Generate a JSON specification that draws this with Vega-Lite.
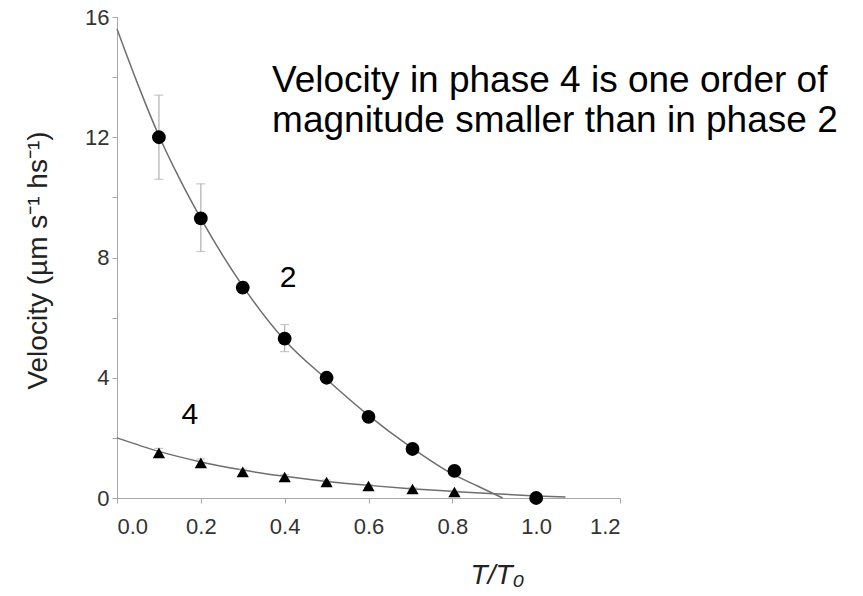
{
  "$schema": "https://vega.github.io/schema/vega-lite/v6.json",
  "width": 503,
  "height": 481,
  "autosize": "none",
  "padding": {"left": 117, "top": 17, "right": 243, "bottom": 98},
  "background": "white",
  "config": {
    "view": {"stroke": null},
    "font": "Liberation Sans",
    "axis": {
      "grid": false,
      "domainColor": "#a8a8a8",
      "tickColor": "#a8a8a8",
      "tickSize": 5,
      "labelColor": "#333333",
      "labelFont": "Liberation Sans",
      "labelFontSize": 22,
      "titleFont": "Liberation Sans",
      "titleFontWeight": "normal",
      "titleColor": "#222222"
    }
  },
  "datasets": {
    "curve": [
      {"series": "2", "x": 0.0, "y": 15.6},
      {"series": "2", "x": 0.05, "y": 13.75},
      {"series": "2", "x": 0.1, "y": 12.05},
      {"series": "2", "x": 0.15, "y": 10.6},
      {"series": "2", "x": 0.2, "y": 9.3},
      {"series": "2", "x": 0.3, "y": 7.05},
      {"series": "2", "x": 0.4, "y": 5.25},
      {"series": "2", "x": 0.5, "y": 3.95},
      {"series": "2", "x": 0.6, "y": 2.75},
      {"series": "2", "x": 0.7, "y": 1.7},
      {"series": "2", "x": 0.8, "y": 0.8},
      {"series": "2", "x": 0.86, "y": 0.4},
      {"series": "2", "x": 0.92, "y": 0.0},
      {"series": "4", "x": 0.0, "y": 2.0},
      {"series": "4", "x": 0.1, "y": 1.55},
      {"series": "4", "x": 0.2, "y": 1.2},
      {"series": "4", "x": 0.3, "y": 0.93},
      {"series": "4", "x": 0.4, "y": 0.72},
      {"series": "4", "x": 0.5, "y": 0.55},
      {"series": "4", "x": 0.6, "y": 0.42},
      {"series": "4", "x": 0.7, "y": 0.31},
      {"series": "4", "x": 0.8, "y": 0.22},
      {"series": "4", "x": 0.9, "y": 0.14},
      {"series": "4", "x": 1.0, "y": 0.07},
      {"series": "4", "x": 1.07, "y": 0.03}
    ],
    "points": [
      {"series": "2", "x": 0.1, "y": 12.0, "lo": 10.6, "hi": 13.4},
      {"series": "2", "x": 0.2, "y": 9.3, "lo": 8.2, "hi": 10.45},
      {"series": "2", "x": 0.3, "y": 7.0, "lo": 6.85, "hi": 7.2},
      {"series": "2", "x": 0.4, "y": 5.3, "lo": 4.87, "hi": 5.77},
      {"series": "2", "x": 0.5, "y": 4.0, "lo": 3.9, "hi": 4.1},
      {"series": "2", "x": 0.6, "y": 2.7, "lo": 2.6, "hi": 2.8},
      {"series": "2", "x": 0.705, "y": 1.63, "lo": 1.55, "hi": 1.72},
      {"series": "2", "x": 0.805, "y": 0.9, "lo": 0.82, "hi": 0.98},
      {"series": "2", "x": 1.0, "y": 0.0, "lo": 0.0, "hi": 0.0},
      {"series": "4", "x": 0.1, "y": 1.5, "lo": 1.35, "hi": 1.65},
      {"series": "4", "x": 0.2, "y": 1.17, "lo": 1.05, "hi": 1.3},
      {"series": "4", "x": 0.3, "y": 0.87, "lo": 0.78, "hi": 0.96},
      {"series": "4", "x": 0.4, "y": 0.7, "lo": 0.62, "hi": 0.78},
      {"series": "4", "x": 0.5, "y": 0.53, "lo": 0.47, "hi": 0.6},
      {"series": "4", "x": 0.6, "y": 0.4, "lo": 0.35, "hi": 0.45},
      {"series": "4", "x": 0.705, "y": 0.3, "lo": 0.26, "hi": 0.34},
      {"series": "4", "x": 0.805, "y": 0.2, "lo": 0.17, "hi": 0.23}
    ],
    "labels": [
      {"x": 0.408, "y": 7.32, "text": "2"},
      {"x": 0.174, "y": 2.76, "text": "4"}
    ],
    "note": [
      {"x": 0.37, "y": 13.51, "text": "Velocity in phase 4 is one order of"},
      {"x": 0.37, "y": 12.18, "text": "magnitude smaller than in phase 2"}
    ]
  },
  "layer": [
    {
      "data": {"name": "curve"},
      "mark": {"type": "line", "color": "#6e6e6e", "strokeWidth": 1.5, "interpolate": "monotone", "clip": false},
      "encoding": {
        "x": {
          "field": "x", "type": "quantitative",
          "scale": {"domain": [0, 1.2], "nice": false, "zero": false},
          "axis": {
            "values": [0, 0.2, 0.4, 0.6, 0.8, 1.0, 1.2],
            "format": ".1f",
            "labelPadding": 13,
            "title": "T/T₀",
            "titleFontStyle": "italic",
            "titleFontSize": 28,
            "titleX": 380,
            "titleY": 63,
            "titleAlign": "center",
            "titleBaseline": "top",
            "titleAnchor": null
          }
        },
        "y": {
          "field": "y", "type": "quantitative",
          "scale": {"domain": [0, 16], "nice": false},
          "axis": {
            "values": [0, 2, 4, 6, 8, 10, 12, 14, 16],
            "labelExpr": "datum.value % 4 === 0 ? datum.label : ''",
            "format": "d",
            "labelPadding": 3,
            "title": "Velocity (µm s⁻¹ hs⁻¹)",
            "titleFontSize": 28,
            "titleX": -79,
            "titleY": 243,
            "titleAlign": "center",
            "titleBaseline": "middle",
            "titleAngle": -90
          }
        },
        "detail": {"field": "series"}
      }
    },
    {
      "data": {"name": "points"},
      "mark": {"type": "rule", "color": "#b0b0b0", "strokeWidth": 1.2},
      "encoding": {
        "x": {"field": "x", "type": "quantitative"},
        "y": {"field": "lo", "type": "quantitative"},
        "y2": {"field": "hi"}
      }
    },
    {
      "data": {"name": "points"},
      "mark": {"type": "tick", "orient": "horizontal", "color": "#b0b0b0", "size": 9, "thickness": 1.2},
      "encoding": {
        "x": {"field": "x", "type": "quantitative"},
        "y": {"field": "lo", "type": "quantitative"}
      }
    },
    {
      "data": {"name": "points"},
      "mark": {"type": "tick", "orient": "horizontal", "color": "#b0b0b0", "size": 9, "thickness": 1.2},
      "encoding": {
        "x": {"field": "x", "type": "quantitative"},
        "y": {"field": "hi", "type": "quantitative"}
      }
    },
    {
      "data": {"name": "points"},
      "mark": {"type": "point", "filled": true, "opacity": 1, "color": "black", "clip": false},
      "encoding": {
        "x": {"field": "x", "type": "quantitative"},
        "y": {"field": "y", "type": "quantitative"},
        "shape": {"field": "series", "type": "nominal", "scale": {"domain": ["2", "4"], "range": ["circle", "triangle-up"]}, "legend": null},
        "size": {"field": "series", "type": "nominal", "scale": {"domain": ["2", "4"], "range": [190, 150]}, "legend": null}
      }
    },
    {
      "data": {"name": "labels"},
      "mark": {"type": "text", "fontSize": 30, "color": "black", "align": "center", "baseline": "middle"},
      "encoding": {
        "x": {"field": "x", "type": "quantitative"},
        "y": {"field": "y", "type": "quantitative"},
        "text": {"field": "text"}
      }
    },
    {
      "data": {"name": "note"},
      "mark": {"type": "text", "fontSize": 37, "color": "black", "align": "left", "baseline": "alphabetic", "clip": false},
      "encoding": {
        "x": {"field": "x", "type": "quantitative"},
        "y": {"field": "y", "type": "quantitative"},
        "text": {"field": "text"}
      }
    }
  ]
}
